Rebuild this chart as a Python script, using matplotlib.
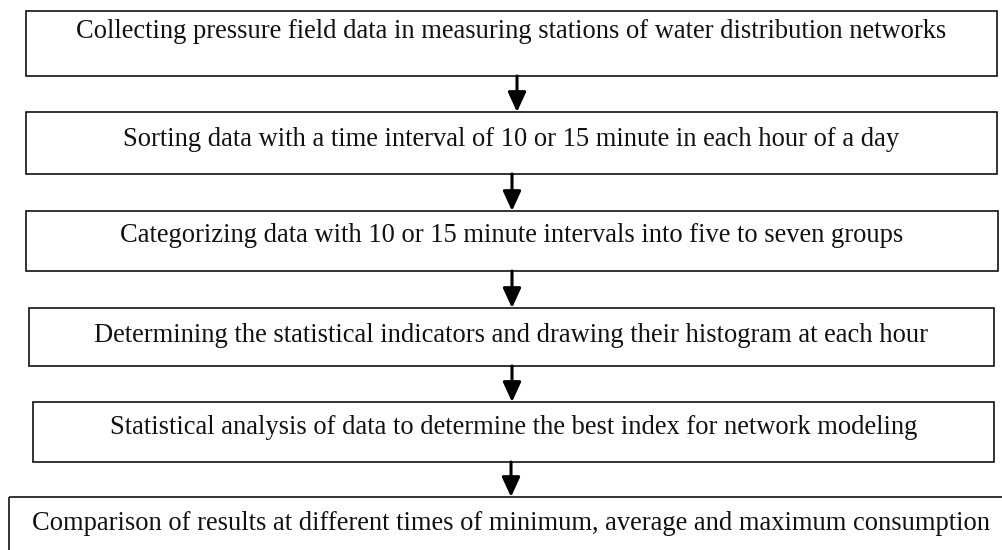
import matplotlib
matplotlib.use('Agg')
from matplotlib import pyplot as plt
from matplotlib.patches import Rectangle

steps = [
    'Collecting pressure field data in measuring stations of water distribution networks',
    'Sorting data with a time interval of 10 or 15 minute in each hour of a day',
    'Categorizing data with 10 or 15 minute intervals into five to seven groups',
    'Determining the statistical indicators and drawing their histogram at each hour',
    'Statistical analysis of data to determine the best index for network modeling',
    'Comparison of results at different times of minimum, average and maximum consumption',
]

# layout in pixels: (left, top, right, bottom), text y
boxes = [(26, 11, 997, 76), (26, 112, 997, 174), (26, 211, 998, 271),
         (29, 308, 994, 366), (33, 402, 994, 462), (9, 497, 1010, 560)]
text_y = [31, 139, 236, 335, 428, 523]
arrow_x = [517, 512, 512, 512, 511]

fig = plt.figure(figsize=(10.03, 5.5), dpi=100)
ax = fig.add_axes([0, 0, 1, 1])
ax.set_xlim(0, 1003)
ax.set_ylim(550, 0)
ax.axis('off')

for (l, t, r, b), ty, label in zip(boxes, text_y, steps):
    ax.add_patch(Rectangle((l, t), r - l, b - t, fill=False, ec='#111111', lw=1.2))
    ax.text((l + r) / 2 if r < 1003 else 511, ty, label, ha='center', va='center',
            family='Liberation Serif', fontsize=19.1, color='#111111')

for i, x in enumerate(arrow_x):
    y0 = boxes[i][3]
    y1 = boxes[i + 1][1]
    ax.annotate('', xy=(x, y1), xytext=(x, y0),
                arrowprops=dict(arrowstyle='-|>,head_length=1.2,head_width=0.55',
                                lw=2.2, color='black', shrinkA=0, shrinkB=0))

fig.savefig('out.png', dpi=100)
